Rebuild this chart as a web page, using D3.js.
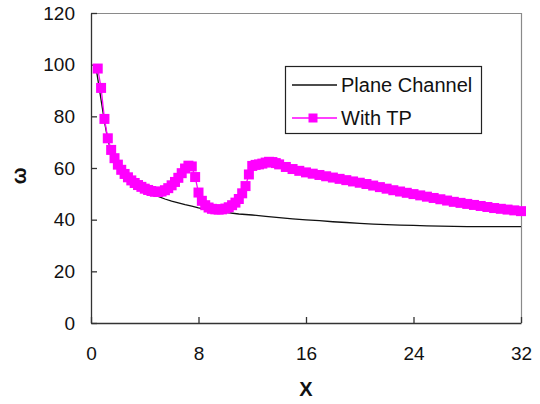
<!DOCTYPE html>
<html>
<head>
<meta charset="utf-8">
<script src="https://cdn.jsdelivr.net/npm/d3@7"></script>
<style>
  body { margin: 0; background: #fff; }
  svg text { font-family: "Liberation Sans", Arial, sans-serif; fill: #111; }
</style>
</head>
<body>
<div id="plot"></div>
<script>
// plane channel (black line)
var planeX = [0.4, 0.7, 1.0, 1.25, 1.5, 2, 2.5, 3, 3.5, 4, 4.5, 5, 5.5, 6, 6.5, 7, 7.5, 8, 9, 10,
  11, 12, 13, 14, 15, 16, 17, 18, 19, 20, 21, 22, 23, 24, 25, 26, 27, 28, 29, 30, 31, 32]
var planeY = [98, 88, 78, 71, 66.5, 60.5, 57, 54.5, 52.6, 51.2, 50, 49, 48, 47.2, 46.5, 45.8, 45.2, 44.6, 43.6, 42.8,
  42.2, 41.8, 41.3, 40.8, 40.3, 39.9, 39.6, 39.2, 38.9, 38.6, 38.3, 38.1, 37.9, 37.8, 37.6, 37.5, 37.4, 37.3, 37.3, 37.3, 37.3, 37.3]

// with TP (magenta, square markers)
var tpX = [0.5, 0.75, 1.0, 1.25, 1.5, 1.75, 2.0, 2.25, 2.5, 2.75, 3.0, 3.25, 3.5, 3.75, 4.0, 4.25, 4.5, 4.75,
  5.0, 5.25, 5.5, 5.75, 6.0, 6.25, 6.5, 6.75, 7.0, 7.25, 7.5, 7.75, 8.0, 8.25, 8.5, 8.75, 9.0, 9.25, 9.5, 9.75,
  10.0, 10.25, 10.5, 10.75, 11.0, 11.25, 11.5, 11.75, 12.0, 12.25, 12.5, 12.75, 13.0, 13.25, 13.5, 13.75, 14.0,
  14.5, 15, 15.5, 16, 16.5, 17, 17.5, 18, 18.5, 19, 19.5, 20, 20.5, 21, 21.5, 22, 22.5, 23, 23.5, 24, 24.5,
  25, 25.5, 26, 26.5, 27, 27.5, 28, 28.5, 29, 29.5, 30, 30.5, 31, 31.5, 32]
var tpY = [98.5, 91, 79, 71.5, 67, 63.8, 61.3, 59.3, 57.7, 56.4, 55.2, 54.2, 53.4, 52.7, 52.0, 51.5, 51.1, 50.8,
  50.7, 50.9, 51.4, 52.2, 53.3, 54.6, 56.2, 58.0, 59.8, 60.9, 60.6, 56.5, 50.5, 47.3, 45.6, 44.7, 44.2, 44.0, 43.9, 44.0,
  44.3, 44.8, 45.6, 46.6, 48.0, 50.2, 53.0, 57.5, 60.8, 61.2, 61.4, 61.7, 62.1, 62.4, 62.3, 61.9, 61.4,
  60.4, 59.6, 58.9, 58.3, 57.8, 57.3, 56.8, 56.3, 55.8, 55.3, 54.8, 54.3, 53.8, 53.2, 52.6, 52.0, 51.4, 50.9, 50.4, 49.9, 49.4,
  48.9, 48.4, 47.9, 47.4, 46.9, 46.5, 46.1, 45.7, 45.3, 44.9, 44.5, 44.2, 43.9, 43.6, 43.3]

var xTicks = [0, 8, 16, 24, 32]
var yTicks = [0, 20, 40, 60, 80, 100, 120]
var seriesNames = ["Plane Channel", "With TP"]

var margin = { top: 13, right: 19, bottom: 81, left: 91 }
  , width = 540 - margin.left - margin.right
  , height = 404 - margin.top - margin.bottom

var svg = d3.select("#plot")
  .append("svg")
  .attr("width", 540)
  .attr("height", 404)
  .append("g")
  .attr("transform", "translate(" + margin.left + "," + margin.top + ")")

var xScale = d3.scaleLinear().domain([0, 32]).range([0, width])
var yScale = d3.scaleLinear().domain([0, 120]).range([height, 0])

// grey frame on top and right
svg.append("path")
  .attr("d", "M0,0.5H" + (width + 0.5) + "V" + height)
  .attr("fill", "none")
  .attr("stroke", "#8a8a8a")
  .attr("stroke-width", 1.2)

var xAxis = svg.append("g")
  .attr("transform", "translate(0," + height + ")")
  .call(d3.axisBottom(xScale).tickValues(xTicks).tickSizeInner(-6).tickSizeOuter(0).tickPadding(23.5))
var yAxis = svg.append("g")
  .call(d3.axisLeft(yScale).tickValues(yTicks).tickSizeInner(-6).tickSizeOuter(0).tickPadding(16))

svg.selectAll(".domain, .tick line").attr("stroke", "#333").attr("stroke-width", 1.3)
svg.selectAll(".tick text").style("font-size", "19px").attr("fill", "#111")

var line = d3.line()
  .x((d, i) => xScale(d[0]))
  .y(d => yScale(d[1]))

var plane = planeX.map((x, i) => [x, planeY[i]])
var tp = tpX.map((x, i) => [x, tpY[i]])

svg.append("path")
  .datum(plane)
  .attr("d", line)
  .attr("fill", "none")
  .attr("stroke", "#111")
  .attr("stroke-width", 1.3)

svg.append("path")
  .datum(tp)
  .attr("d", line)
  .attr("fill", "none")
  .attr("stroke", "#ff00ff")
  .attr("stroke-width", 1.3)

var ms = 10
svg.selectAll("rect.mk")
  .data(tp)
  .enter()
  .append("rect")
  .attr("class", "mk")
  .attr("x", d => xScale(d[0]) - ms / 2)
  .attr("y", d => yScale(d[1]) - ms / 2)
  .attr("width", ms)
  .attr("height", ms)
  .attr("fill", "#ff00ff")

// axis titles
svg.append("text")
  .attr("x", xScale(16))
  .attr("y", height + 73)
  .attr("text-anchor", "middle")
  .style("font-size", "20px")
  .style("font-weight", "bold")
  .text("X")

svg.append("text")
  .attr("transform", "translate(" + (-65) + "," + yScale(57) + ") rotate(-90)")
  .attr("text-anchor", "middle")
  .style("font-size", "20px")
  .style("font-weight", "bold")
  .text("ω")

// legend
var lg = svg.append("g").attr("transform", "translate(" + (285 - margin.left) + "," + (66 - margin.top) + ")")
lg.append("rect")
  .attr("x", 0.5).attr("y", 0.5)
  .attr("width", 196).attr("height", 67)
  .attr("fill", "#fff")
  .attr("stroke", "#222")
  .attr("stroke-width", 1.2)

var legColors = ["#111", "#ff00ff"]
var items = lg.selectAll("g.item")
  .data(seriesNames)
  .enter()
  .append("g")
  .attr("class", "item")
  .attr("transform", (d, i) => "translate(0," + (19 + i * 33) + ")")

items.append("line")
  .attr("x1", 7).attr("x2", 52)
  .attr("y1", 0).attr("y2", 0)
  .attr("stroke", (d, i) => legColors[i])
  .attr("stroke-width", 1.3)

items.filter((d, i) => i == 1)
  .append("rect")
  .attr("x", 28 - 4.5).attr("y", -4.5)
  .attr("width", 9).attr("height", 9)
  .attr("fill", "#ff00ff")

items.append("text")
  .attr("x", 56)
  .attr("y", 7)
  .style("font-size", "20px")
  .text(d => d)
</script>
</body>
</html>
